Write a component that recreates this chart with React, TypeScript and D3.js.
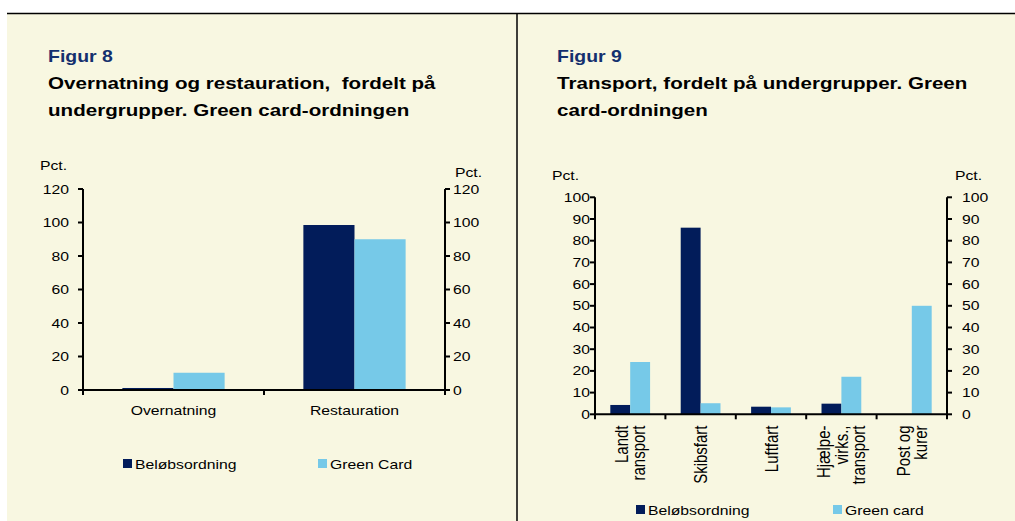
import * as d3 from "d3";
import React from "react";

// figur 8
const fig8Categories = ["Overnatning", "Restauration"];
const fig8Belob = [1.2, 98.5];
const fig8Green = [10.3, 90];
const fig8Ticks = [0, 20, 40, 60, 80, 100, 120];

// figur 9 (category labels split in lines as in the original)
const fig9Categories = [
  ["Landt", "ransport"],
  ["Skibsfart"],
  ["Luftfart"],
  ["Hjælpe-", "virks.,", "transport"],
  ["Post og", "kurer"],
];
const fig9Belob = [4.3, 86, 3.5, 4.9, 0];
const fig9Green = [24.1, 5.1, 3.2, 17.3, 50];
const fig9Ticks = [0, 10, 20, 30, 40, 50, 60, 70, 80, 90, 100];

const seriesNames = ["Beløbsordning", "Green"];

const NAVY = "#021c5a";
const LIGHT = "#76c9e8";
const BG = "#f8f7e1";
const TITLE = "#14306e";
const FONT = "'Liberation Sans', Arial, sans-serif";
const SX = 1.24; // the original is stretched sideways, so text is too

function T(props: {
  x: number;
  y: number;
  size?: number;
  weight?: string;
  fill?: string;
  anchor?: string;
  rotate?: number;
  children: React.ReactNode;
}) {
  const { x, y, size = 12.7, weight = "normal", fill = "#000", anchor = "start", rotate } = props;
  const tr = `translate(${x},${y}) scale(${SX},1)` + (rotate ? ` rotate(${rotate})` : "");
  return (
    <text
      transform={tr}
      fontSize={size}
      fontWeight={weight}
      fill={fill}
      textAnchor={anchor}
      fontFamily={FONT}
      style={{ whiteSpace: "pre" }}
    >
      {props.children}
    </text>
  );
}

function Bars(props: {
  x: d3.ScaleBand<string>;
  y: d3.ScaleLinear<number, number>;
  keys: string[];
  a: number[];
  b: number[];
}) {
  const { x, y, keys, a, b } = props;
  const inner = d3.scaleBand().domain(seriesNames).range([0, x.bandwidth()]).paddingOuter(0.77);
  const y0 = y(0);
  return (
    <g>
      {keys.map((k, i) => (
        <g key={k} transform={`translate(${x(k)},0)`}>
          <rect x={inner("Beløbsordning")} y={y(a[i])} width={inner.bandwidth()} height={y0 - y(a[i])} fill={NAVY} />
          <rect x={inner("Green")} y={y(b[i])} width={inner.bandwidth()} height={y0 - y(b[i])} fill={LIGHT} />
        </g>
      ))}
    </g>
  );
}

function Axes(props: {
  x: d3.ScaleBand<string>;
  y: d3.ScaleLinear<number, number>;
  ticks: number[];
}) {
  const { x, y, ticks } = props;
  const [l, r] = x.range();
  const y0 = y(0);
  const top = y(ticks[ticks.length - 1]);
  const bounds = [l, ...x.domain().map((k) => (x(k) as number) + x.bandwidth())];
  return (
    <g stroke="#000" strokeWidth={2}>
      <line x1={l} x2={l} y1={top} y2={y0 + 1} />
      <line x1={r} x2={r} y1={top} y2={y0 + 1} />
      <line x1={l} x2={r} y1={y0} y2={y0} />
      {ticks.map((t) => (
        <g key={t}>
          <line x1={l - 5} x2={l} y1={y(t)} y2={y(t)} />
          <line x1={r} x2={r + 5} y1={y(t)} y2={y(t)} />
        </g>
      ))}
      {bounds.map((b, i) => (
        <line key={i} x1={b} x2={b} y1={y0} y2={y0 + 5} />
      ))}
    </g>
  );
}

function Legend(props: { x1: number; x2: number; y: number; second: string }) {
  const { x1, x2, y, second } = props;
  return (
    <g>
      <rect x={x1} y={y - 10} width={9} height={9} fill={NAVY} />
      <T x={x1 + 12} y={y}>Beløbsordning</T>
      <rect x={x2} y={y - 10} width={9} height={9} fill={LIGHT} />
      <T x={x2 + 12} y={y}>{second}</T>
    </g>
  );
}

export default function App() {
  // figur 8 scales
  const x8 = d3.scaleBand().domain(fig8Categories).range([83, 445]);
  const y8 = d3.scaleLinear().domain([0, 120]).range([390, 189]);

  // figur 9 scales
  const keys9 = fig9Categories.map((c) => c.join(" "));
  const x9 = d3.scaleBand().domain(keys9).range([595, 947]);
  const y9 = d3.scaleLinear().domain([0, 100]).range([414.3, 197.3]);

  return (
    <svg width={1015} height={521} style={{ position: "absolute", left: 0, top: 0, display: "block" }}>
      <rect x={7} y={13} width={1008} height={508} fill={BG} />
      <line x1={7} x2={1015} y1={13.5} y2={13.5} stroke="#000" strokeWidth={1.5} />
      <line x1={517} x2={517} y1={13} y2={521} stroke="#000" strokeWidth={1.5} />

      {/* figur 8 */}
      <T x={48} y={62} size={15.7} weight="bold" fill={TITLE}>Figur 8</T>
      <T x={48} y={89} size={16.6} weight="bold">Overnatning og restauration,  fordelt på</T>
      <T x={48} y={116} size={16.6} weight="bold">undergrupper. Green card-ordningen</T>

      <T x={40} y={170}>Pct.</T>
      <T x={455} y={177}>Pct.</T>
      {fig8Ticks.map((t) => (
        <g key={t}>
          <T x={69} y={y8(t) + 4.5} anchor="end">{t}</T>
          <T x={453} y={y8(t) + 4.5}>{t}</T>
        </g>
      ))}
      <Bars x={x8} y={y8} keys={fig8Categories} a={fig8Belob} b={fig8Green} />
      <Axes x={x8} y={y8} ticks={fig8Ticks} />
      {fig8Categories.map((c) => (
        <T key={c} x={(x8(c) as number) + x8.bandwidth() / 2} y={415} anchor="middle">{c}</T>
      ))}
      <Legend x1={123} x2={318} y={469} second="Green Card" />

      {/* figur 9 */}
      <T x={557} y={62} size={15.7} weight="bold" fill={TITLE}>Figur 9</T>
      <T x={557} y={89} size={16.6} weight="bold">Transport, fordelt på undergrupper. Green</T>
      <T x={557} y={116} size={16.6} weight="bold">card-ordningen</T>

      <T x={552} y={180}>Pct.</T>
      <T x={955} y={180}>Pct.</T>
      {fig9Ticks.map((t) => (
        <g key={t}>
          <T x={590} y={y9(t) + 4.5} anchor="end">{t}</T>
          <T x={962} y={y9(t) + 4.5}>{t}</T>
        </g>
      ))}
      <Bars x={x9} y={y9} keys={keys9} a={fig9Belob} b={fig9Green} />
      <Axes x={x9} y={y9} ticks={fig9Ticks} />
      {fig9Categories.map((lines, i) => {
        const cx = (x9(keys9[i]) as number) + x9.bandwidth() / 2;
        return lines.map((s, j) => (
          <T key={keys9[i] + j} x={cx + (j - (lines.length - 1) / 2) * 17.5 + 6.5} y={425.5} size={15} anchor="end" rotate={-90}>
            {s}
          </T>
        ));
      })}
      <Legend x1={636} x2={833} y={515} second="Green card" />
    </svg>
  );
}
